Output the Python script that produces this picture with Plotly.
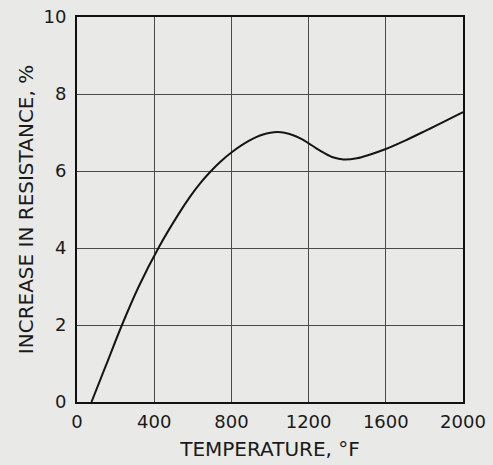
import plotly.graph_objects as go

temperature_f = [75, 150, 233, 320, 424, 526, 587, 640, 691, 743, 800, 890, 960, 1040, 1120, 1160, 1200, 1240, 1280, 1330, 1380, 1450, 1520, 1600, 1700, 1800, 2000]
increase_pct = [0, 0.95, 2.0, 3.0, 4.02, 4.88, 5.34, 5.69, 5.98, 6.24, 6.48, 6.78, 6.94, 7.01, 6.93, 6.84, 6.72, 6.59, 6.47, 6.35, 6.30, 6.33, 6.43, 6.57, 6.79, 7.03, 7.53]

x_ticks = [0, 400, 800, 1200, 1600, 2000]
y_ticks = [0, 2, 4, 6, 8, 10]

bg = "#e9e9e7"
font_family = "DejaVu Sans"

fig = go.Figure()
fig.add_trace(go.Scatter(
    x=temperature_f, y=increase_pct, mode="lines",
    line=dict(color="#151515", width=2, shape="spline", smoothing=1.0),
    showlegend=False, hoverinfo="skip",
))

fig.update_layout(
    width=493, height=465,
    margin=dict(l=77, r=30, t=17, b=63),
    paper_bgcolor=bg, plot_bgcolor=bg,
    font=dict(family=font_family, color="#1a1a1a", size=18),
)
fig.update_xaxes(
    range=[0, 2000], tickvals=x_ticks, ticktext=[str(v) for v in x_ticks],
    showgrid=True, gridcolor="#4a4a4a", gridwidth=1,
    showline=True, linecolor="#111111", linewidth=2, mirror=True,
    zeroline=False, ticks="", ticklabelstandoff=2, automargin=False,
    title=dict(text="TEMPERATURE, °F", font=dict(size=20), standoff=11),
)
fig.update_yaxes(
    range=[0, 10], tickvals=y_ticks, ticktext=[str(v) for v in y_ticks],
    showgrid=True, gridcolor="#4a4a4a", gridwidth=1,
    showline=True, linecolor="#111111", linewidth=2, mirror=True,
    zeroline=False, ticks="", ticklabelstandoff=5, automargin=False,
    title=dict(text="INCREASE IN RESISTANCE, %", font=dict(size=20), standoff=4),
)

fig.write_html("out.html", config={"displayModeBar": False},
               post_script="document.body.style.margin='0';")
